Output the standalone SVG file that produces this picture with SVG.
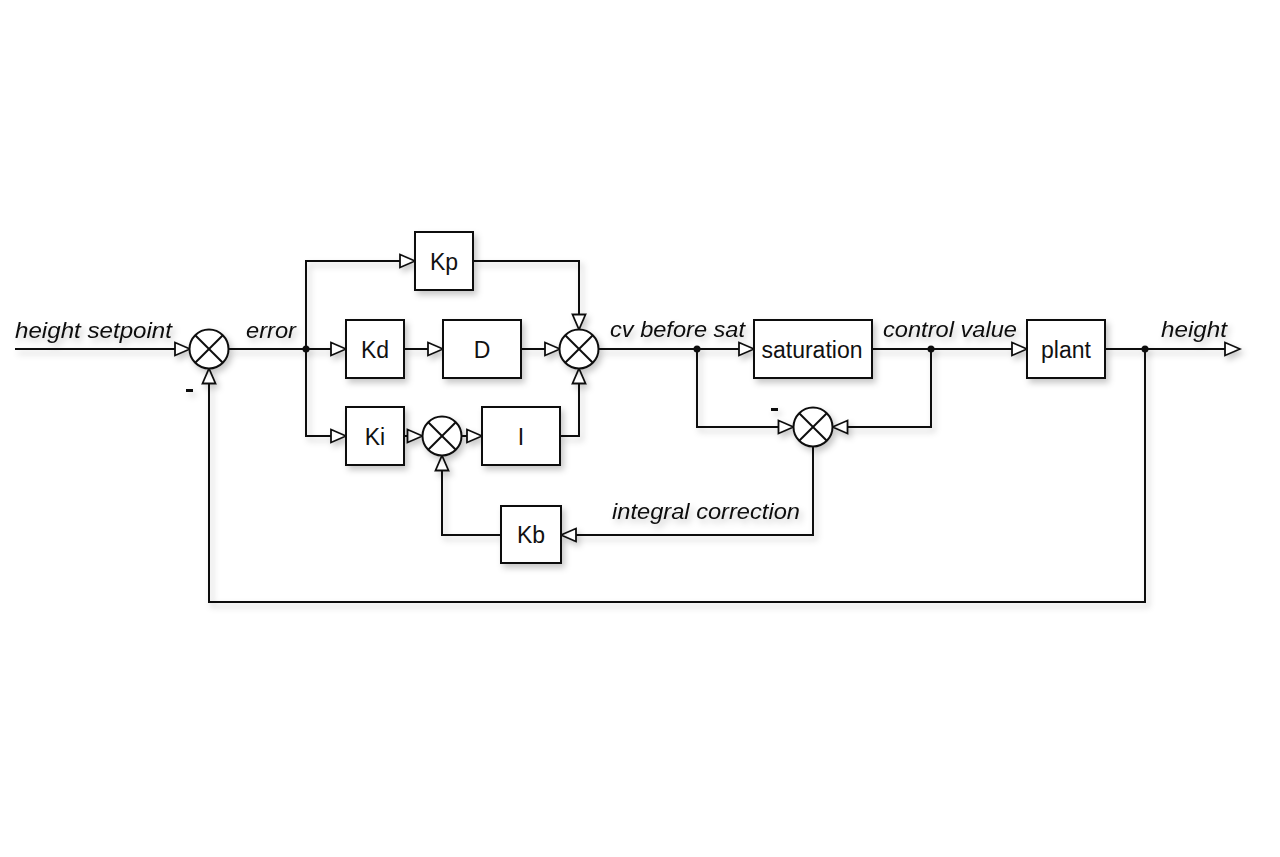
<svg xmlns="http://www.w3.org/2000/svg" width="1280" height="857" viewBox="0 0 1280 857">
<style>
.blk{fill:#fff;stroke:#111;stroke-width:2}
.ln{fill:none;stroke:#111;stroke-width:2;marker-end:url(#arr)}
.pl{fill:none;stroke:#111;stroke-width:2}
.lbl{font-family:"Liberation Sans",Arial,sans-serif;font-size:23px;fill:#111;text-anchor:middle}
.it{font-family:"Liberation Sans",Arial,sans-serif;font-size:22px;font-style:italic;fill:#111}
.x{stroke:#111;stroke-width:2}
</style>
<defs>
<marker id="arr" viewBox="0 0 18 16" refX="16.5" refY="8" markerWidth="18" markerHeight="16" markerUnits="userSpaceOnUse" orient="auto">
<path d="M1.5,1.5 L16.5,8 L1.5,14.5 Z" fill="#fff" stroke="#111" stroke-width="1.8"/>
</marker>
<filter id="sh" x="-20%" y="-20%" width="150%" height="150%">
<feDropShadow dx="3" dy="4" stdDeviation="3" flood-color="#000" flood-opacity="0.22"/>
</filter>
<g id="sumshape">
<circle r="19.5" class="blk"/>
<line x1="-13.8" y1="-13.8" x2="13.8" y2="13.8" class="x"/>
<line x1="-13.8" y1="13.8" x2="13.8" y2="-13.8" class="x"/>
</g>
</defs>
<rect width="1280" height="857" fill="#fff"/>
<g id="connectors" filter="url(#sh)">
<path class="ln" d="M15,349 H190"/>
<path class="pl" d="M229,349 H306"/>
<path class="ln" d="M306,349 H346"/>
<path class="ln" d="M306,349 V261 H415"/>
<path class="ln" d="M306,349 V436 H346"/>
<path class="ln" d="M404,349 H443"/>
<path class="ln" d="M521,349 H560"/>
<path class="ln" d="M473,261 H579 V329.5"/>
<path class="ln" d="M560,436 H579 V368.5"/>
<path class="ln" d="M404,436 H422.5"/>
<path class="ln" d="M461.5,436 H482"/>
<path class="ln" d="M599,349 H754"/>
<path class="ln" d="M697,349 V427 H793.5"/>
<path class="ln" d="M872,349 H1027"/>
<path class="ln" d="M931,349 V427 H832.5"/>
<path class="ln" d="M1105,349 H1240"/>
<path class="ln" d="M813,446.5 V535 H561"/>
<path class="ln" d="M501,535 H442 V455.5"/>
<path class="ln" d="M1145,349 V602 H209 V368.5"/>
<circle cx="306" cy="349" r="3.5" fill="#111"/>
<circle cx="697" cy="349" r="3.5" fill="#111"/>
<circle cx="931" cy="349" r="3.5" fill="#111"/>
<circle cx="1145" cy="349" r="3.5" fill="#111"/>
</g>
<g id="sum1" filter="url(#sh)"><use href="#sumshape" x="209" y="349"/></g>
<g id="sum2" filter="url(#sh)"><use href="#sumshape" x="579" y="349"/></g>
<g id="sum3" filter="url(#sh)"><use href="#sumshape" x="442" y="436"/></g>
<g id="sum4" filter="url(#sh)"><use href="#sumshape" x="813" y="427"/></g>
<g id="Kp"><rect x="415" y="232" width="58" height="58" class="blk" filter="url(#sh)"/><text x="444" y="269.5" class="lbl">Kp</text></g>
<g id="Kd"><rect x="346" y="320" width="58" height="58" class="blk" filter="url(#sh)"/><text x="375" y="357.5" class="lbl">Kd</text></g>
<g id="D"><rect x="443" y="320" width="78" height="58" class="blk" filter="url(#sh)"/><text x="482" y="357.5" class="lbl">D</text></g>
<g id="Ki"><rect x="346" y="407" width="58" height="58" class="blk" filter="url(#sh)"/><text x="375" y="444.5" class="lbl">Ki</text></g>
<g id="I"><rect x="482" y="407" width="78" height="58" class="blk" filter="url(#sh)"/><text x="521" y="444.5" class="lbl">I</text></g>
<g id="saturation"><rect x="754" y="320" width="118" height="58" class="blk" filter="url(#sh)"/><text x="812" y="357.5" class="lbl">saturation</text></g>
<g id="plant"><rect x="1027" y="320" width="78" height="58" class="blk" filter="url(#sh)"/><text x="1066" y="357.5" class="lbl">plant</text></g>
<g id="Kb"><rect x="501" y="506" width="60" height="57" class="blk" filter="url(#sh)"/><text x="531" y="543" class="lbl">Kb</text></g>
<g id="labels" filter="url(#sh)">
<text x="15" y="338" class="it" textLength="157" lengthAdjust="spacingAndGlyphs">height setpoint</text>
<text x="246" y="338" class="it" textLength="50" lengthAdjust="spacingAndGlyphs">error</text>
<text x="610" y="337" class="it" textLength="135" lengthAdjust="spacingAndGlyphs">cv before sat</text>
<text x="883" y="337" class="it" textLength="134" lengthAdjust="spacingAndGlyphs">control value</text>
<text x="1161" y="337" class="it" textLength="66" lengthAdjust="spacingAndGlyphs">height</text>
<text x="612" y="519" class="it" textLength="188" lengthAdjust="spacingAndGlyphs">integral correction</text>
<rect x="186" y="389" width="7" height="3" fill="#111"/>
<rect x="771" y="408" width="7" height="3" fill="#111"/>
</g>
</svg>
